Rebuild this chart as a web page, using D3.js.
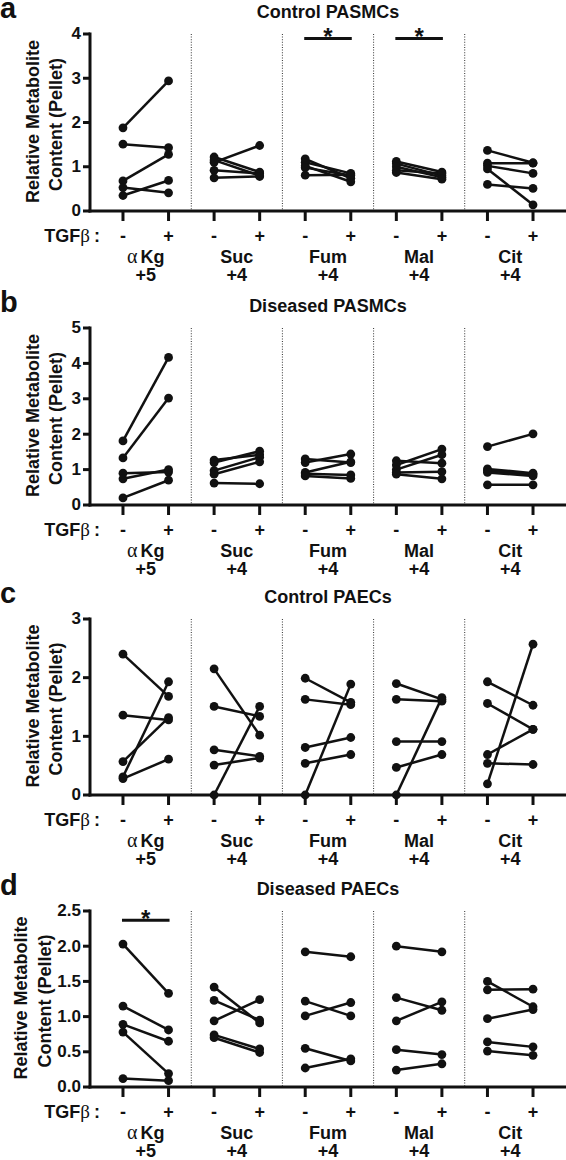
<!DOCTYPE html>
<html>
<head>
<meta charset="utf-8">
<script src="https://cdn.jsdelivr.net/npm/d3@7"></script>
<style>
  html, body { margin: 0; padding: 0; background: #fff; }
  svg { display: block; }
  text { font-family: "Liberation Sans", Arial, Helvetica, sans-serif; font-weight: bold; fill: #111; }
</style>
</head>
<body>
<svg id="chart" width="566" height="1160"></svg>
<script>
// ---------------- DATA ----------------
const groups = ["αKg", "Suc", "Fum", "Mal", "Cit"];
const carbonLabels = ["+5", "+4", "+4", "+4", "+4"];
const treatments = ["-", "+"];
const panelLetters = ["a", "b", "c", "d"];
const panelTitles = ["Control PASMCs", "Diseased PASMCs", "Control PAECs", "Diseased PAECs"];
const yMaxes = [4, 5, 3, 2.5];
const yTicksA = [0, 1, 2, 3, 4];
const yTicksB = [0, 1, 2, 3, 4, 5];
const yTicksC = [0, 1, 2, 3];
const yTicksD = [0.0, 0.5, 1.0, 1.5, 2.0, 2.5];
const yLabelLines = ["Relative Metabolite", "Content (Pellet)"];

// pairs per group: [without TGFβ (-), with TGFβ (+)]
const controlPASMCs = [
  [[1.88, 2.94], [1.51, 1.43], [0.68, 1.28], [0.53, 0.41], [0.35, 0.69]],
  [[1.10, 1.48], [1.22, 0.88], [1.15, 0.80], [0.92, 0.85], [0.75, 0.78]],
  [[1.18, 0.74], [1.10, 0.85], [1.02, 0.66], [0.98, 0.80], [0.81, 0.82]],
  [[1.12, 0.88], [1.07, 0.80], [1.00, 0.76], [0.92, 0.85], [0.87, 0.72]],
  [[1.37, 1.09], [1.08, 1.08], [1.02, 0.85], [0.95, 0.14], [0.60, 0.51]]
];
const diseasedPASMCs = [
  [[1.81, 4.17], [1.33, 3.02], [0.90, 0.93], [0.74, 1.00], [0.20, 0.70]],
  [[1.27, 1.42], [1.20, 1.52], [0.97, 1.35], [0.87, 1.22], [0.62, 0.60]],
  [[1.30, 1.20], [1.20, 1.44], [0.92, 1.22], [0.88, 0.85], [0.82, 0.75]],
  [[1.25, 1.18], [1.13, 1.58], [1.00, 1.42], [0.92, 0.94], [0.87, 0.74]],
  [[1.65, 2.01], [1.02, 0.90], [0.97, 0.86], [0.92, 0.82], [0.57, 0.57]]
];
const controlPAECs = [
  [[2.40, 1.68], [1.36, 1.28], [0.57, 1.32], [0.31, 1.93], [0.28, 0.61]],
  [[2.15, 1.02], [1.51, 1.34], [0.77, 0.66], [0.51, 0.63], [0.00, 1.51]],
  [[1.99, 1.58], [1.63, 1.54], [0.81, 0.98], [0.54, 0.69], [0.00, 1.89]],
  [[1.90, 1.63], [1.63, 1.60], [0.91, 0.91], [0.47, 0.69], [0.00, 1.66]],
  [[1.93, 1.53], [1.56, 1.12], [0.69, 1.12], [0.54, 0.52], [0.19, 2.57]]
];
const diseasedPAECs = [
  [[2.03, 1.33], [1.15, 0.81], [0.89, 0.65], [0.78, 0.19], [0.12, 0.09]],
  [[1.42, 0.91], [1.23, 0.95], [0.94, 1.24], [0.74, 0.54], [0.70, 0.49]],
  [[1.92, 1.85], [1.22, 1.01], [1.01, 1.20], [0.55, 0.37], [0.27, 0.40]],
  [[2.00, 1.92], [1.27, 1.09], [0.94, 1.21], [0.53, 0.46], [0.24, 0.33]],
  [[1.50, 1.14], [1.38, 1.39], [0.97, 1.10], [0.64, 0.57], [0.51, 0.45]]
];
// significance bars: panel index, group, y value
const sigPanels = [0, 0, 3];
const sigGroups = ["Fum", "Mal", "αKg"];
const sigValues = [3.9, 3.9, 2.37];

// ---------------- LAYOUT ----------------
const panelData = [controlPASMCs, diseasedPASMCs, controlPAECs, diseasedPAECs];
const panelTicks = [yTicksA, yTicksB, yTicksC, yTicksD];
const tickFormats = [d3.format("d"), d3.format("d"), d3.format("d"), d3.format(".1f")];
const panelTop = [34, 328, 619, 911];
const panelHeight = [177, 177, 176, 176];
const yLabelX = [[38.5, 61.5], [38.5, 61.5], [38.5, 61.5], [27, 50.5]];
const axisLeftX = 90, axisRightX = 566;
const ink = "#111";

const svg = d3.select("#chart");

const keys = [];
groups.forEach(g => treatments.forEach(t => keys.push(g + "|" + t)));
const x = d3.scalePoint().domain(keys).range([axisLeftX, axisRightX]).padding(0.724);

panelData.forEach((data, p) => {
  const top = panelTop[p], bottom = top + panelHeight[p];
  const y = d3.scaleLinear().domain([0, yMaxes[p]]).range([bottom, top]);
  const g = svg.append("g");

  // panel letter and title
  g.append("text").attr("x", 0).attr("y", top - 16)
    .style("font-size", "29px").text(panelLetters[p]);
  g.append("text").attr("x", 328).attr("y", top - 16).attr("text-anchor", "middle")
    .style("font-size", "18px").text(panelTitles[p]);

  // dotted separators between groups
  for (let i = 0; i < groups.length - 1; i++) {
    const sx = (x(groups[i] + "|+") + x(groups[i + 1] + "|-")) / 2;
    g.append("line").attr("x1", sx).attr("x2", sx).attr("y1", top).attr("y2", bottom)
      .attr("stroke", "#444").attr("stroke-width", 1.1).attr("stroke-dasharray", "1,1.6");
  }

  // y axis
  const ya = g.append("g").attr("transform", `translate(${axisLeftX},0)`)
    .call(d3.axisLeft(y).tickValues(panelTicks[p]).tickFormat(tickFormats[p])
      .tickSize(7).tickSizeOuter(0).tickPadding(2).offset(0));
  ya.select(".domain").attr("stroke", ink).attr("stroke-width", 3).attr("stroke-linecap", "square");
  ya.selectAll(".tick line").attr("stroke", ink).attr("stroke-width", 3);
  ya.selectAll(".tick text").style("font-size", "17px").style("font-family", null).attr("fill", ink);

  // x axis
  const xa = g.append("g").attr("transform", `translate(0,${bottom})`)
    .call(d3.axisBottom(x).tickSize(10).tickSizeOuter(0).tickFormat("").offset(0));
  xa.select(".domain").attr("stroke", ink).attr("stroke-width", 3).attr("stroke-linecap", "square");
  xa.selectAll(".tick line").attr("stroke", ink).attr("stroke-width", 3);

  // x labels
  const tg = g.append("text").attr("x", 100).attr("y", bottom + 31).attr("text-anchor", "end")
    .style("font-size", "18px");
  tg.append("tspan").text("TGF");
  tg.append("tspan").style("font-family", "'Liberation Serif', 'DejaVu Serif', serif")
    .style("font-weight", "normal").style("font-size", "19px").text("β");
  tg.append("tspan").attr("dx", 4).text(":");

  keys.forEach(k => {
    const t = k.split("|")[1];
    g.append("text").attr("x", x(k)).attr("y", bottom + 31).attr("text-anchor", "middle")
      .style("font-size", "18px").text(t);
  });

  groups.forEach((grp, i) => {
    const cx = (x(grp + "|-") + x(grp + "|+")) / 2;
    const lbl = g.append("text").attr("x", cx).attr("y", bottom + 52).attr("text-anchor", "middle")
      .style("font-size", "18px");
    if (grp.startsWith("α")) {
      lbl.append("tspan").style("font-family", "'Liberation Serif', 'DejaVu Serif', serif")
        .style("font-weight", "normal").style("font-size", "20px").text("α");
      lbl.append("tspan").attr("dx", 3).text(grp.slice(1));
    } else {
      lbl.text(grp);
    }
    g.append("text").attr("x", cx).attr("y", bottom + 70).attr("text-anchor", "middle")
      .style("font-size", "18px").text(carbonLabels[i]);
  });

  // paired lines and points
  data.forEach((pairs, gi) => {
    const grp = groups[gi];
    const xm = x(grp + "|-"), xp = x(grp + "|+");
    const gg = g.append("g");
    gg.selectAll("line.pair").data(pairs).join("line").attr("class", "pair")
      .attr("x1", xm).attr("x2", xp)
      .attr("y1", d => y(d[0])).attr("y2", d => y(d[1]))
      .attr("stroke", ink).attr("stroke-width", 2.5);
    gg.selectAll("circle.m").data(pairs).join("circle").attr("class", "m")
      .attr("cx", xm).attr("cy", d => y(d[0])).attr("r", 4.4).attr("fill", ink);
    gg.selectAll("circle.p").data(pairs).join("circle").attr("class", "p")
      .attr("cx", xp).attr("cy", d => y(d[1])).attr("r", 4.4).attr("fill", ink);
  });

  // significance
  sigPanels.forEach((sp, si) => {
    if (sp !== p) return;
    const grp = sigGroups[si];
    const x1 = x(grp + "|-") - 1, x2 = x(grp + "|+") + 1;
    const yy = y(sigValues[si]);
    g.append("line").attr("x1", x1).attr("x2", x2).attr("y1", yy).attr("y2", yy)
      .attr("stroke", ink).attr("stroke-width", 3);
    g.append("text").attr("x", (x1 + x2) / 2).attr("y", yy + 7).attr("text-anchor", "middle")
      .style("font-size", "24px").text("*");
  });

  // y label (two rotated lines)
  const cy = (top + bottom) / 2;
  yLabelLines.forEach((line, li) => {
    const bx = yLabelX[p][li];
    g.append("text").attr("transform", `translate(${bx},${cy + (li === 0 ? -1 : 2)}) rotate(-90)`)
      .attr("text-anchor", "middle").style("font-size", "18px").text(line);
  });
});
</script>
</body>
</html>
